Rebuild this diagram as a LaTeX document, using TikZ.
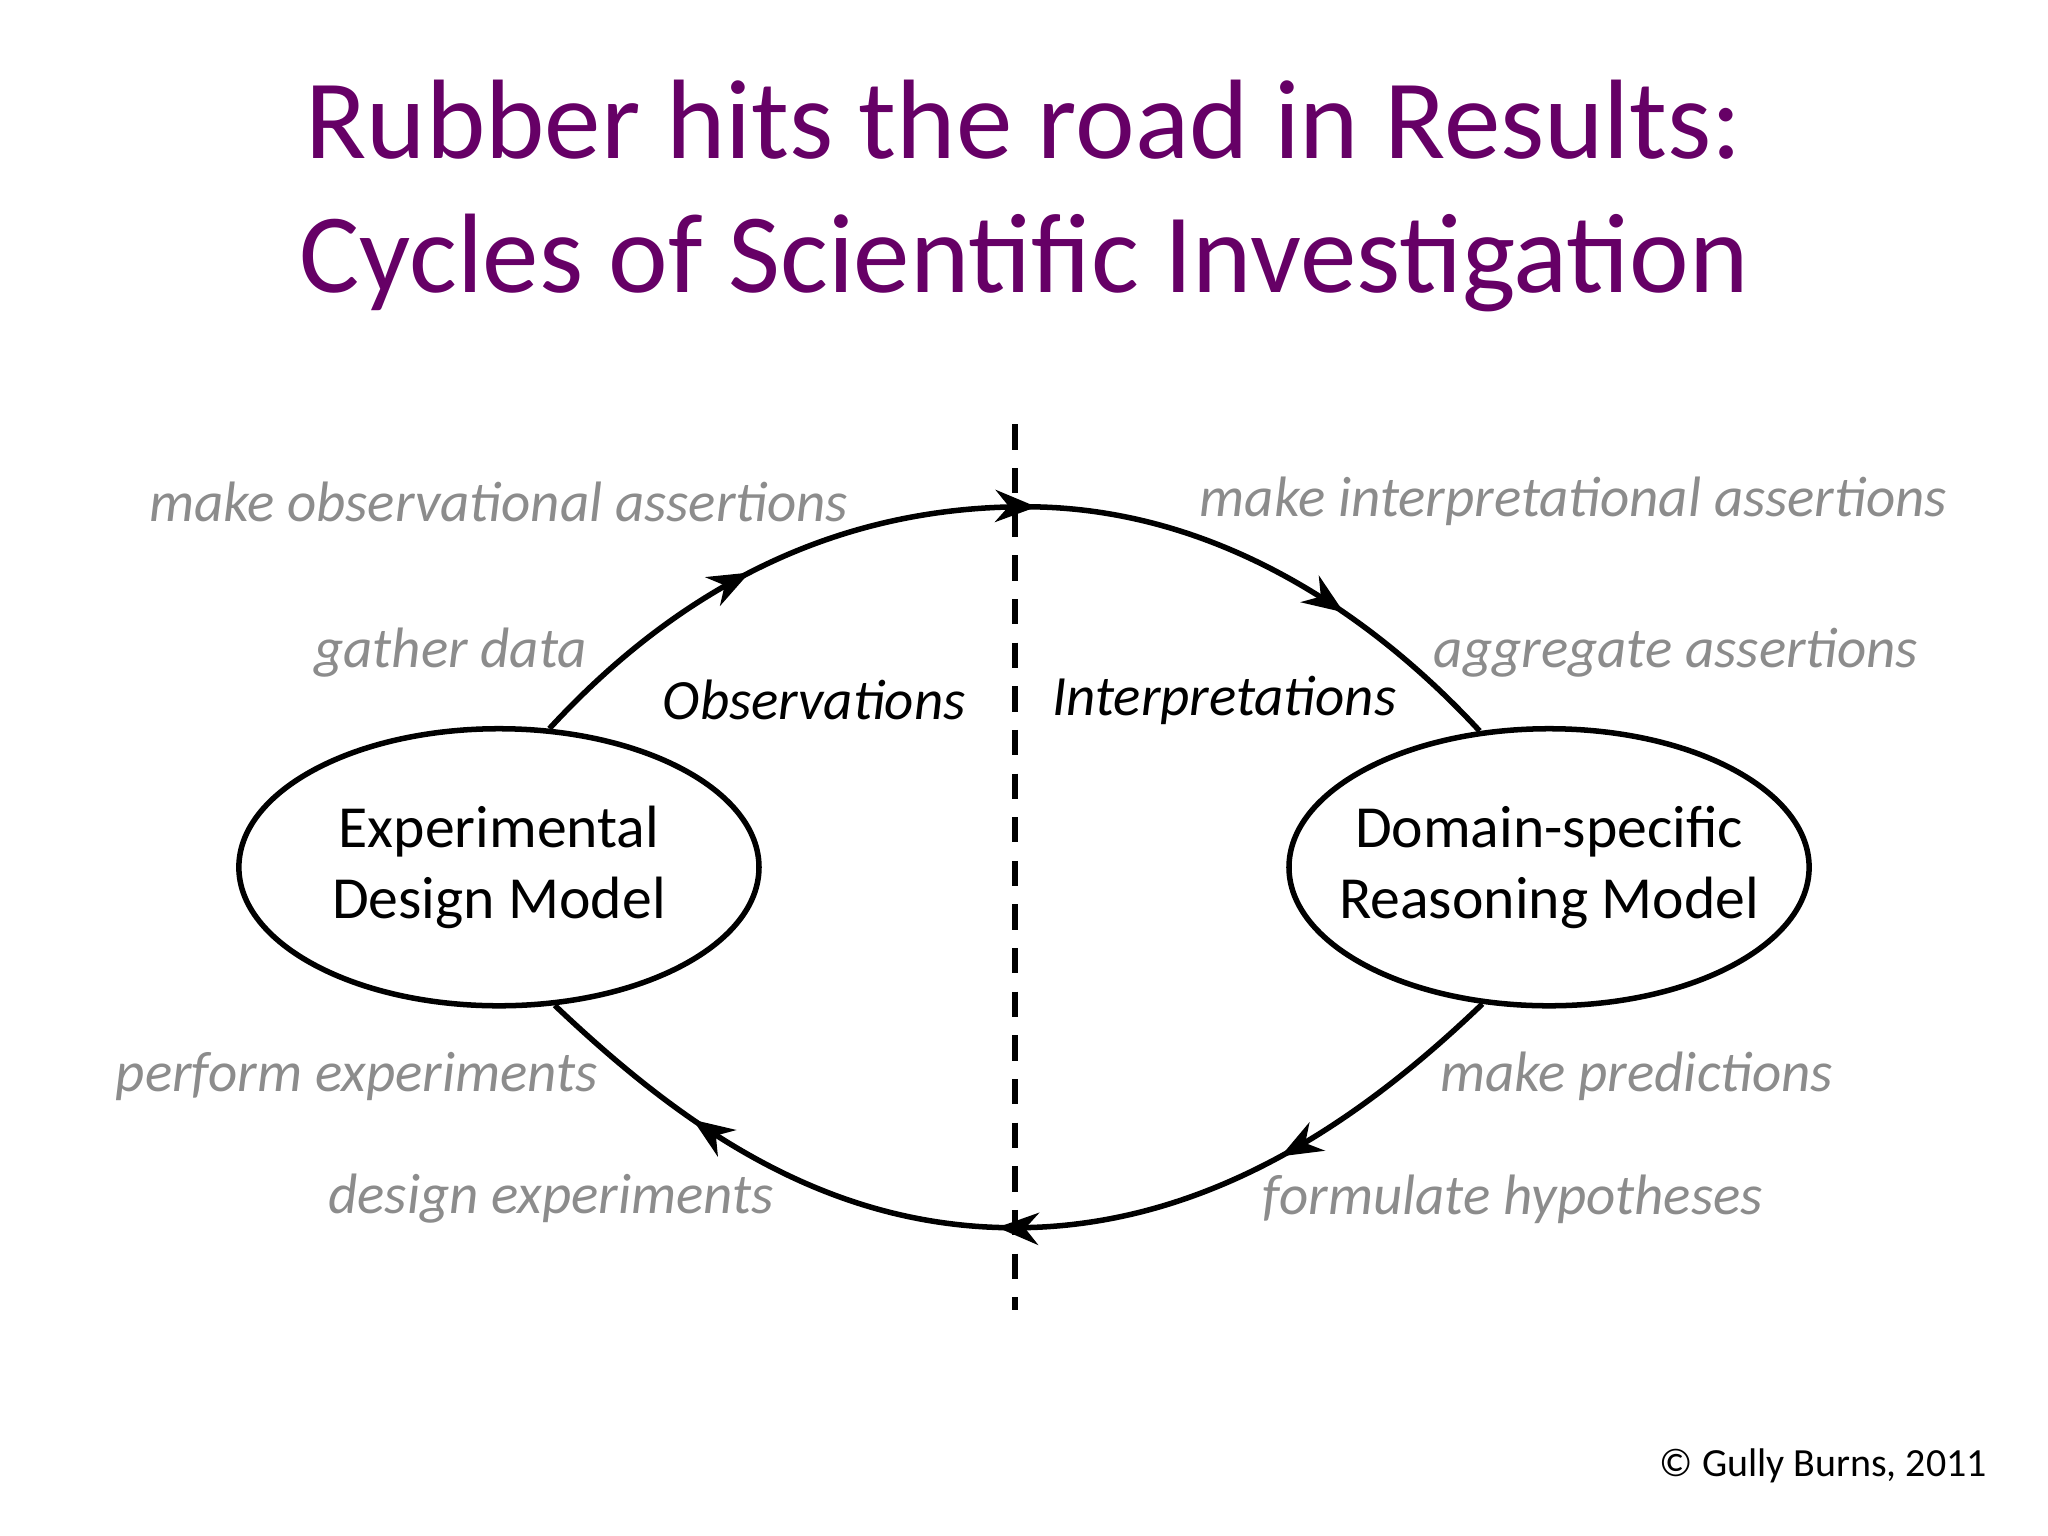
\documentclass[tikz,border=0pt]{standalone}
\usepackage{fontspec}
\setmainfont{Carlito}
\usetikzlibrary{shapes.geometric,decorations.markings,arrows.meta}
\definecolor{ttl}{RGB}{102,0,102}
\definecolor{lab}{RGB}{140,140,140}
\tikzset{
  model/.style={ellipse,draw,line width=1.2pt,minimum width=3.98cm,minimum height=2.12cm,inner ysep=0pt,inner xsep=-9pt,align=center,font=\fontsize{13}{15.5}\selectfont},
  glab/.style={text=lab,font=\itshape\fontsize{12.4}{15}\selectfont,inner sep=0pt},
  blab/.style={font=\itshape\fontsize{12.4}{15}\selectfont,inner sep=0pt},
  cyc/.style={line width=1.2pt,decoration={markings,
     mark=at position 0.24 with {\arrow{Stealth[length=9pt,width=7pt]}},
     mark=at position 0.52 with {\arrow{Stealth[length=9pt,width=7pt]}},
     mark=at position 0.83 with {\arrow{Stealth[length=9pt,width=7pt]}}},postaction={decorate}}
}
\begin{document}
\begin{tikzpicture}[x=0.01cm,y=-0.01cm]
\useasboundingbox (0,0) rectangle (1568,1176);
\node[text=ttl,font=\fontsize{24.6}{29}\selectfont,align=center] (title) at (784,150) {Rubber hits the road in Results:\\Cycles of Scientific Investigation};
\coordinate (dt) at (777,325); \coordinate (db) at (777,1003);
\draw[line width=1.2pt,dash pattern=on 5.5pt off 4pt] (dt) -- (db);
\node[model] (L) at (382,664) {Experimental\\Design Model};
\node[model] (R) at (1186,664) {Domain-specific\\Reasoning Model};
\coordinate (top) at (785,388); \coordinate (bot) at (777,940);
\draw[cyc] (L.70) .. controls (520,450) and (640,388) .. (top) .. controls (930,388) and (1050,470) .. (R.117);
\draw[cyc] (R.244) .. controls (1050,850) and (930,940) .. (bot) .. controls (630,940) and (520,860) .. (L.292);
\node[glab,anchor=east] (a1) at (650,384) {make observational assertions};
\node[glab,anchor=east] (a2) at (450,500) {gather data};
\node[glab,anchor=east] (a3) at (458,824) {perform experiments};
\node[glab,anchor=east] (a4) at (593,918) {design experiments};
\node[glab,anchor=west] (b1) at (918,384) {make interpretational assertions};
\node[glab,anchor=west] (b2) at (1097,500) {aggregate assertions};
\node[glab,anchor=west] (b3) at (1102,824) {make predictions};
\node[glab,anchor=west] (b4) at (966,918) {formulate hypotheses};
\node[blab,anchor=east] (obs) at (740,536) {Observations};
\node[blab,anchor=west] (int) at (805,536) {Interpretations};
\node[anchor=east,font=\fontsize{8.7}{10}\selectfont,inner sep=0pt] (cp) at (1522,1122) {© Gully Burns, 2011};
\end{tikzpicture}
\end{document}
